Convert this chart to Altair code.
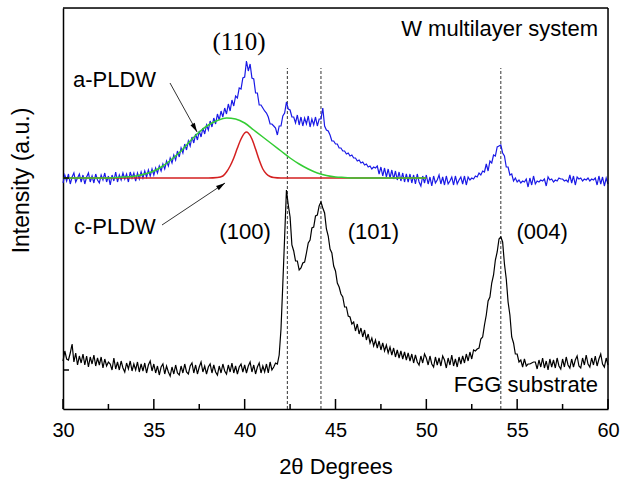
import altair as alt
import pandas as pd

# ---------------- data ----------------
# 2-theta sampling grid, 30.0 .. 60.0 in 0.1 degree steps
two_theta = [round(30 + 0.1 * i, 1) for i in range(301)]

# W multilayer system (blue), arbitrary units
blue = [
    226, 234, 228, 235, 225, 232, 236, 227, 231, 235,
    227, 234, 225, 232, 236, 227, 233, 226, 235, 229,
    226, 234, 229, 236, 227, 233, 224, 234, 228, 237,
    227, 234, 229, 236, 230, 235, 227, 237, 231, 236,
    228, 236, 230, 237, 231, 238, 232, 239, 233, 240,
    234, 241, 236, 243, 238, 245, 240, 248, 243, 251,
    246, 254, 249, 258, 252, 261, 256, 265, 259, 268,
    263, 272, 266, 275, 269, 278, 272, 281, 275, 284,
    279, 288, 282, 291, 285, 295, 289, 298, 292, 301,
    295, 305, 298, 309, 303, 313, 311, 321, 320, 331,
    332, 348, 338, 345, 331, 330, 316, 316, 304, 304,
    301, 298, 296, 292, 285, 285, 283, 281, 274, 283,
    283, 293, 296, 307, 300, 299, 292, 292, 286, 294,
    284, 292, 283, 291, 285, 293, 282, 290, 284, 292,
    283, 290, 290, 301, 283, 279, 278, 274, 268, 268,
    265, 265, 261, 261, 258, 258, 255, 256, 253, 254,
    251, 251, 248, 249, 246, 247, 244, 245, 242, 243,
    240, 242, 241, 243, 235, 242, 233, 241, 232, 240,
    231, 239, 230, 238, 229, 237, 228, 236, 227, 235,
    227, 235, 226, 234, 225, 235, 227, 223, 233, 226,
    234, 225, 232, 223, 233, 226, 229, 234, 225, 232,
    224, 233, 225, 228, 232, 224, 233, 225, 229, 232,
    225, 233, 224, 232, 229, 231, 230, 233, 232, 236,
    234, 238, 237, 245, 238, 248, 246, 254, 253, 262,
    263, 264, 256, 253, 242, 242, 234, 235, 228, 231,
    227, 229, 226, 228, 227, 230, 222, 231, 224, 233,
    225, 228, 227, 229, 228, 230, 223, 232, 229, 230,
    227, 229, 228, 231, 230, 230, 228, 229, 227, 234,
    226, 233, 224, 232, 230, 231, 228, 230, 229, 231,
    228, 230, 229, 231, 224, 233, 225, 232, 223, 231,
    225,
]

# FGG substrate (black)
black = [
    48, 58, 50, 49, 56, 65, 47, 56, 44, 53,
    46, 55, 44, 53, 42, 52, 45, 54, 43, 51,
    44, 52, 41, 50, 43, 47, 45, 39, 51, 40,
    47, 39, 48, 41, 37, 46, 40, 48, 38, 45,
    39, 47, 37, 45, 38, 46, 36, 44, 48, 38,
    45, 36, 43, 34, 42, 45, 35, 43, 37, 33,
    42, 35, 44, 36, 34, 43, 36, 45, 37, 35,
    43, 46, 36, 44, 35, 42, 47, 37, 43, 35,
    42, 45, 36, 44, 37, 34, 43, 36, 45, 38,
    35, 44, 37, 46, 36, 43, 35, 42, 45, 37,
    44, 36, 43, 47, 37, 44, 35, 42, 46, 36,
    43, 37, 45, 36, 47, 39, 42, 46, 45, 54,
    80, 125, 172, 219, 204, 192, 164, 158, 148, 148,
    139, 141, 146, 147, 156, 166, 169, 181, 182, 193,
    194, 203, 207, 201, 196, 180, 173, 160, 156, 143,
    138, 126, 122, 115, 112, 102, 102, 93, 92, 85,
    87, 78, 85, 75, 81, 72, 79, 69, 75, 66,
    71, 63, 69, 61, 68, 59, 66, 58, 64, 56,
    62, 54, 61, 52, 59, 51, 58, 50, 57, 49,
    56, 48, 55, 46, 54, 47, 44, 53, 46, 55,
    51, 44, 53, 45, 42, 52, 44, 51, 43, 53,
    49, 41, 51, 44, 54, 43, 50, 42, 52, 45,
    53, 46, 55, 48, 57, 50, 59, 58, 60, 61,
    70, 72, 84, 94, 108, 112, 126, 134, 149, 157,
    170, 172, 167, 145, 130, 107, 94, 72, 66, 55,
    55, 47, 49, 42, 50, 43, 45, 45, 46, 47,
    47, 40, 49, 42, 51, 41, 48, 39, 50, 42,
    49, 41, 51, 43, 40, 50, 42, 52, 44, 41,
    50, 42, 49, 53, 43, 41, 51, 44, 54, 45,
    42, 51, 44, 53, 43, 50, 55, 45, 42, 51,
    44,
]

# a-PLDW fitted component (green)
green_x = [30, 31, 32, 33, 34, 34.5, 35, 35.5, 36, 36.5, 37, 37.5, 38, 38.5, 39,
           39.5, 40, 40.5, 41, 41.5, 42, 42.5, 43, 43.5, 44, 44.5, 45, 45.5, 46,
           47, 48, 49, 50]
green_v = [231, 231, 231, 231.5, 233, 235, 238, 243, 250, 258, 268, 277, 284, 288.5, 291,
           290, 286, 279, 272, 265, 258, 251, 245, 240, 236, 233.5, 232, 231.5, 231,
           231, 231, 231, 231]

# c-PLDW fitted component (red)
red_x = [30, 38.0, 38.5, 38.8, 39.0, 39.2, 39.4, 39.6, 39.8, 40.0, 40.1, 40.2,
         40.4, 40.6, 40.8, 41.0, 41.2, 41.4, 41.6, 42.0, 50]
red_v = [231, 231, 231.5, 233, 237, 243, 251, 261, 270, 276, 277, 276,
         270, 260, 249, 240, 235, 232.5, 231.5, 231, 231]

# reference peak positions (dashed lines)
peak_positions = [42.35, 44.2, 54.1]

# axis tick values
major_ticks = [30, 35, 40, 45, 50, 55, 60]
minor_ticks = [32.5, 37.5, 42.5, 47.5, 52.5, 57.5]
y_ticks = [39, 231]

# annotation texts
ann_sans = [
    ("W multilayer system", 59.45, 380, "right"),
    ("a-PLDW", 30.55, 329.5, "left"),
    ("c-PLDW", 30.6, 182, "left"),
    ("(100)", 40.02, 177, "center"),
    ("(101)", 47.09, 177, "center"),
    ("(004)", 56.37, 177, "center"),
    ("FGG substrate", 59.45, 24, "right"),
]
ann_serif = [("(110)", 39.69, 367)]

# arrows: (x_start, v_start, x_tip, v_tip, head angle)
arrows = [
    (35.89, 326, 37.38, 277, 151),
    (35.45, 184, 38.92, 226, 56),
]

# ---------------- chart ----------------
SANS = "Liberation Sans"
SERIF = "Liberation Serif"

xscale = alt.Scale(domain=[30, 60], nice=False, zero=False)
yscale = alt.Scale(domain=[0, 401], nice=False, zero=False)

xaxis = alt.Axis(
    title="2θ Degrees", values=major_ticks, ticks=False, tickSize=0, grid=False,
    labelFont=SANS, labelFontSize=20, labelColor="black", labelPadding=21,
    labelBaseline="middle", labelFlush=False,
    titleFont=SANS, titleFontSize=22, titleFontWeight="normal", titleColor="black",
    titleY=57, titleBaseline="middle",
    domainColor="black", domainWidth=1.5,
)
yaxis = alt.Axis(
    title="Intensity (a.u.)", labels=False, ticks=False, tickSize=0, grid=False,
    titleFont=SANS, titleFontSize=23, titleFontWeight="normal", titleColor="black",
    titleAngle=270, titleX=-42, titleY=172, titleAlign="center", titleBaseline="middle",
    domainColor="black", domainWidth=1.5,
)


def X(field):
    return alt.X(field, type="quantitative", scale=xscale, axis=xaxis)


def Y(field):
    return alt.Y(field, type="quantitative", scale=yscale, axis=yaxis)


spec = pd.DataFrame({"x": two_theta, "blue": blue, "black": black})
green_df = pd.DataFrame({"x": green_x, "v": green_v})
red_df = pd.DataFrame({"x": red_x, "v": red_v})

dashed = alt.Chart(pd.DataFrame({"x": peak_positions, "y0": 0, "y1": 341})).mark_rule(
    color="#333333", strokeWidth=1, strokeDash=[3, 2]
).encode(x=X("x"), y=Y("y0"), y2="y1")

blue_line = alt.Chart(spec).mark_line(color="#1a1ae6", strokeWidth=1.2).encode(
    x=X("x"), y=Y("blue"))
black_line = alt.Chart(spec).mark_line(color="black", strokeWidth=1.2).encode(
    x=X("x"), y=Y("black"))
red_line = alt.Chart(red_df).mark_line(color="#d42020", strokeWidth=1.5,
                                       interpolate="monotone").encode(x=X("x"), y=Y("v"))
green_line = alt.Chart(green_df).mark_line(color="#33cc33", strokeWidth=1.5,
                                           interpolate="monotone").encode(x=X("x"), y=Y("v"))

major = alt.Chart(pd.DataFrame({"x": major_ticks, "y0": 0, "y1": 10})).mark_rule(
    color="black", strokeWidth=1.5).encode(x=X("x"), y=Y("y0"), y2="y1")
minor = alt.Chart(pd.DataFrame({"x": minor_ticks, "y0": 0, "y1": 5})).mark_rule(
    color="black", strokeWidth=1.5).encode(x=X("x"), y=Y("y0"), y2="y1")
yt = alt.Chart(pd.DataFrame({"y": y_ticks, "x0": 30, "x1": 30.33})).mark_rule(
    color="black", strokeWidth=1.5).encode(x=X("x0"), x2="x1", y=Y("y"))

# frame: top and right edges
frame_top = alt.Chart(pd.DataFrame({"x0": [30], "x1": [60], "y": [401]})).mark_rule(
    color="black", strokeWidth=1.5).encode(x=X("x0"), x2="x1", y=Y("y"))
frame_right = alt.Chart(pd.DataFrame({"x": [60], "y0": [0], "y1": [401]})).mark_rule(
    color="black", strokeWidth=1.5).encode(x=X("x"), y=Y("y0"), y2="y1")

text_layers = []
for label, tx, ty, al in ann_sans:
    text_layers.append(
        alt.Chart(pd.DataFrame({"x": [tx], "y": [ty], "t": [label]})).mark_text(
            font=SANS, fontSize=22, color="black", align=al, baseline="middle"
        ).encode(x=X("x"), y=Y("y"), text="t:N")
    )
for label, tx, ty in ann_serif:
    text_layers.append(
        alt.Chart(pd.DataFrame({"x": [tx], "y": [ty], "t": [label]})).mark_text(
            font=SERIF, fontSize=25, color="black", align="center", baseline="middle"
        ).encode(x=X("x"), y=Y("y"), text="t:N")
    )

arrow_df = pd.DataFrame(arrows, columns=["xs", "vs", "xt", "vt", "ang"])
arrow_lines = alt.Chart(arrow_df).mark_rule(color="#333333", strokeWidth=1).encode(
    x=X("xs"), y=Y("vs"), x2="xt", y2="vt")
arrow_heads = alt.Chart(arrow_df).mark_point(
    shape="M0,0L0.7,2.6L-0.7,2.6Z", filled=True, color="black", opacity=1,
    size=50, strokeWidth=0
).encode(x=X("xt"), y=Y("vt"), angle=alt.Angle("ang:Q", scale=None))

chart = alt.layer(
    dashed, blue_line, black_line, red_line, green_line,
    major, minor, yt, frame_top, frame_right, arrow_lines, arrow_heads, *text_layers
).properties(
    width=545, height=401,
    autosize=alt.AutoSizeParams(type="none"),
    padding={"left": 63, "top": 8, "right": 13, "bottom": 72},
).configure_view(
    stroke="black", strokeWidth=1.5
).configure(background="white")

chart.save("out.html", embed_options={"renderer": "svg", "actions": False})
